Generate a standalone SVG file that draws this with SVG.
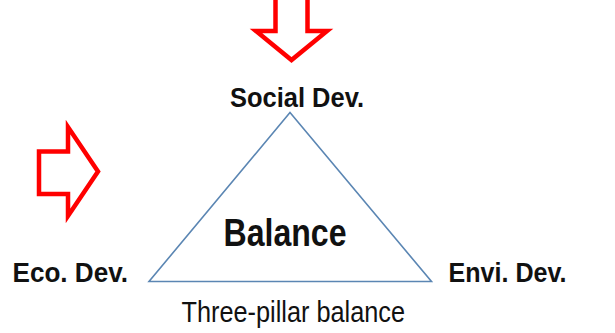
<svg xmlns="http://www.w3.org/2000/svg" width="615" height="333" viewBox="0 0 615 333">
<style>
.arrow{fill:#fff;stroke:#ff0000;stroke-width:4.5;stroke-linejoin:miter}
.tri{fill:#fff;stroke:#5b86b3;stroke-width:1.6}
.lbl{font-family:"Liberation Sans",Arial,sans-serif;font-weight:bold;fill:#111}
.cap{font-family:"Liberation Sans",Arial,sans-serif;fill:#111}
</style>
<rect width="615" height="333" fill="#fff"/>
<g id="arrow-top"><path class="arrow" d="M275.5,-6 L307.5,-6 L307.5,31 L327,31 L291.5,60 L256,31 L275.5,31 Z"/></g>
<g id="arrow-left"><path class="arrow" d="M39,151.5 L68,151.5 L68,127 L98,171.5 L68,216 L68,194 L39,194 Z"/></g>
<g id="triangle"><path class="tri" d="M290,112.5 L431.5,281.5 L149,281.5 Z"/>
<text class="lbl" x="223.5" y="246" font-size="38.5" textLength="123" lengthAdjust="spacingAndGlyphs">Balance</text></g>
<g id="social"><text class="lbl" x="230" y="106.5" font-size="28.5" textLength="134" lengthAdjust="spacingAndGlyphs">Social Dev.</text></g>
<g id="eco"><text class="lbl" x="12.5" y="281.5" font-size="28.5" textLength="115.5" lengthAdjust="spacingAndGlyphs">Eco. Dev.</text></g>
<g id="envi"><text class="lbl" x="448.5" y="281.5" font-size="28.5" textLength="118" lengthAdjust="spacingAndGlyphs">Envi. Dev.</text></g>
<g id="caption"><text class="cap" x="181.5" y="322" font-size="29.5" textLength="223.5" lengthAdjust="spacingAndGlyphs">Three-pillar balance</text></g>
</svg>
